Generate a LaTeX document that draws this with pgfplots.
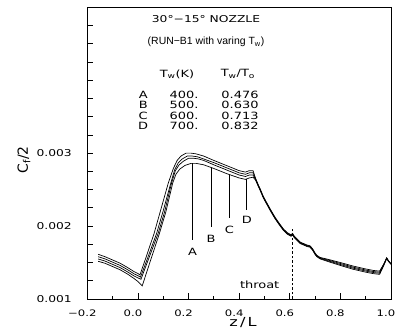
\documentclass[border=0pt]{standalone}
\usepackage{pgfplots}
\pgfplotsset{compat=1.18}
\usepackage{fontspec}
\setmainfont{DejaVu Sans}
\newfontfamily\wf[FakeStretch=1.3]{DejaVu Sans}
\newfontfamily\nf{Liberation Sans}
\tikzset{lab/.style={font=\wf\fontsize{10}{11}\selectfont}}
\begin{document}
\begin{tikzpicture}
\begin{axis}[
  at={(0,0)}, anchor=south west, scale only axis,
  width=303.7bp, height=291.7bp,
  xmin=-0.2, xmax=1.0, ymin=0.001, ymax=0.005,
  axis line style={line width=1bp},
  tick style={black, line width=0.7bp},
  tick align=inside, tick pos=left,
  major tick length=5.5bp, minor tick length=3bp,
  xtick={-0.2,0,0.2,0.4,0.6,0.8,1.0},
  xticklabels={−0.2,0.0,0.2,0.4,0.6,0.8,1.0},
  minor xtick={-0.1,0.1,0.3,0.5,0.7,0.9},
  ytick={0.001,0.00125,0.0015,0.00175,0.002,0.00225,0.0025,0.00275,0.003,0.00325,0.0035,0.00375,0.004,0.00425,0.0045,0.00475,0.005},
  yticklabels={0.001,,,,0.002,,,,0.003,,,,,,,,},
  scaled y ticks=false, scaled x ticks=false,
  xticklabel style={font=\wf\fontsize{9}{10}\selectfont, xshift=-5bp, yshift=-7bp},
  yticklabel style={font=\wf\fontsize{9.5}{10}\selectfont, xshift=-12bp},
]
% curve D (top)
\addplot[black, line width=0.7bp] coordinates {
(-0.157,0.001613)(-0.13,0.00158)(-0.1,0.001535)(-0.07,0.00149)(-0.04,0.00143)(-0.015,0.001375)(0.0,0.00135)(0.008,0.00133)
(0.03,0.00155)(0.064,0.0019)(0.09,0.00222)(0.12,0.00259)(0.14,0.00279)(0.155,0.0029)(0.17,0.00296)(0.19,0.003)(0.21,0.003)(0.23,0.00299)(0.26,0.00296)(0.3,0.0029)(0.35,0.00283)(0.4,0.00276)(0.425,0.00274)(0.44,0.00276)(0.455,0.00276)(0.465,0.00265)
(0.475,0.00257)(0.483,0.00251)(0.495,0.00241)(0.509,0.00232)(0.525,0.00222)(0.542,0.00212)(0.558,0.00204)(0.575,0.00196)(0.59,0.00191)(0.605,0.00188)(0.611,0.0019)(0.618,0.00186)(0.63,0.00182)(0.641,0.00178)(0.655,0.00176)(0.668,0.00174)(0.68,0.00173)(0.69,0.00169)(0.7,0.00163)(0.707,0.0016)(0.72,0.00157)
(0.75,0.001545)(0.8,0.0015)(0.85,0.001452)(0.9,0.001412)(0.93,0.001392)(0.955,0.001382)(0.97,0.001472)(0.983,0.001565)(0.99,0.001524)(1.0,0.001484)
};
% curve C
\addplot[black, line width=0.7bp] coordinates {
(-0.157,0.00158)(-0.13,0.00155)(-0.1,0.001505)(-0.07,0.00146)(-0.04,0.0014)(-0.015,0.001345)(0.0,0.00132)(0.01,0.0013)
(0.035,0.00153)(0.074,0.0019)(0.1,0.00221)(0.13,0.00259)(0.145,0.00277)(0.16,0.00287)(0.175,0.00292)(0.195,0.00296)(0.215,0.00296)(0.235,0.00295)(0.26,0.00292)(0.3,0.00287)(0.35,0.0028)(0.4,0.00273)(0.425,0.00271)(0.44,0.00273)(0.455,0.00273)(0.465,0.00265)
(0.475,0.002563)(0.483,0.002503)(0.495,0.002403)(0.509,0.002313)(0.525,0.002213)(0.542,0.002113)(0.558,0.002033)(0.575,0.001953)(0.59,0.001903)(0.605,0.001873)(0.611,0.001893)(0.618,0.001853)(0.63,0.001813)(0.641,0.001773)(0.655,0.001753)(0.668,0.001733)(0.68,0.001723)(0.69,0.001683)(0.7,0.001623)(0.707,0.001593)(0.72,0.001563)
(0.75,0.001535)(0.8,0.001487)(0.85,0.001437)(0.9,0.001397)(0.93,0.001377)(0.955,0.001367)(0.97,0.001464)(0.983,0.001562)(0.99,0.001522)(1.0,0.001482)
};
% curve B
\addplot[black, line width=0.7bp] coordinates {
(-0.157,0.001549)(-0.13,0.00152)(-0.1,0.001475)(-0.07,0.00143)(-0.04,0.00137)(-0.015,0.001315)(0.0,0.00129)(0.012,0.00127)
(0.04,0.00153)(0.08,0.0019)(0.105,0.00219)(0.133,0.00259)(0.148,0.00276)(0.163,0.00284)(0.18,0.00289)(0.2,0.00293)(0.22,0.00293)(0.24,0.00292)(0.26,0.0029)(0.3,0.00284)(0.35,0.00277)(0.4,0.0027)(0.425,0.00268)(0.44,0.0027)(0.455,0.0027)(0.465,0.00264)
(0.475,0.002557)(0.483,0.002497)(0.495,0.002397)(0.509,0.002307)(0.525,0.002207)(0.542,0.002107)(0.558,0.002027)(0.575,0.001947)(0.59,0.001897)(0.605,0.001867)(0.611,0.001887)(0.618,0.001847)(0.63,0.001807)(0.641,0.001767)(0.655,0.001747)(0.668,0.001727)(0.68,0.001717)(0.69,0.001677)(0.7,0.001617)(0.707,0.001587)(0.72,0.001557)
(0.75,0.001525)(0.8,0.001473)(0.85,0.001423)(0.9,0.001383)(0.93,0.001363)(0.955,0.001353)(0.97,0.001456)(0.983,0.001558)(0.99,0.001518)(1.0,0.001478)
};
% curve A (bottom)
\addplot[black, line width=0.7bp] coordinates {
(-0.157,0.001517)(-0.13,0.00149)(-0.1,0.001445)(-0.07,0.0014)(-0.04,0.00134)(-0.015,0.00128)(0.0,0.00124)(0.017,0.00118)
(0.05,0.00153)(0.085,0.0019)(0.11,0.00219)(0.1375,0.00259)(0.15,0.00271)(0.165,0.00278)(0.185,0.00283)(0.21,0.00286)(0.23,0.00286)(0.26,0.00284)(0.3,0.00279)(0.35,0.00272)(0.4,0.00266)(0.425,0.00264)(0.44,0.00266)(0.455,0.00267)(0.465,0.00263)
(0.475,0.00255)(0.483,0.00249)(0.495,0.00239)(0.509,0.0023)(0.525,0.0022)(0.542,0.0021)(0.558,0.00202)(0.575,0.00194)(0.59,0.00189)(0.605,0.00186)(0.611,0.00188)(0.618,0.00184)(0.63,0.0018)(0.641,0.00176)(0.655,0.00174)(0.668,0.00172)(0.68,0.00171)(0.69,0.00167)(0.7,0.00161)(0.707,0.00158)(0.72,0.00155)
(0.75,0.001515)(0.8,0.00146)(0.85,0.001408)(0.9,0.001368)(0.93,0.001348)(0.955,0.001338)(0.97,0.001448)(0.983,0.001555)(0.99,0.001516)(1.0,0.001476)
};
% pointer lines
\addplot[black, line width=0.6bp] coordinates {(0.216,0.00286)(0.216,0.00181)};
\addplot[black, line width=0.6bp] coordinates {(0.289,0.0028)(0.289,0.001992)};
\addplot[black, line width=0.6bp] coordinates {(0.361,0.002707)(0.361,0.00211)};
\addplot[black, line width=0.6bp] coordinates {(0.43,0.002647)(0.43,0.00222)};
% throat
\addplot[black, line width=0.7bp, dash pattern=on 2.5bp off 2bp] coordinates {(0.61,0.001)(0.61,0.00197)};
\node[lab] at (axis cs:0.216,0.00165) {A};
\node[lab] at (axis cs:0.289,0.00182) {B};
\node[lab] at (axis cs:0.361,0.00195) {C};
\node[lab] at (axis cs:0.43,0.00209) {D};
\node[lab] at (axis cs:0.481,0.001192) {throat};
\node[font=\wf\fontsize{9.5}{10}\selectfont] at (axis cs:0.269,0.004841) {30°−15° NOZZLE};
\node[font=\nf\fontsize{10.5}{12}\selectfont] at (axis cs:0.269,0.004525) {(RUN−B1 with varing T\textsubscript{w})};
\node[lab] at (axis cs:0.1545,0.004085) {T\textsubscript{w}(K)};
\node[lab] at (axis cs:0.395,0.004085) {T\textsubscript{w}/T\textsubscript{o}};
\node[lab] at (axis cs:0.021,0.0038) {A};
\node[lab] at (axis cs:0.021,0.003657) {B};
\node[lab] at (axis cs:0.021,0.003515) {C};
\node[lab] at (axis cs:0.021,0.003373) {D};
\node[lab] at (axis cs:0.182,0.0038) {400.};
\node[lab] at (axis cs:0.182,0.003657) {500.};
\node[lab] at (axis cs:0.182,0.003515) {600.};
\node[lab] at (axis cs:0.182,0.003373) {700.};
\node[lab] at (axis cs:0.4035,0.0038) {0.476};
\node[lab] at (axis cs:0.4035,0.003657) {0.630};
\node[lab] at (axis cs:0.4035,0.003515) {0.713};
\node[lab] at (axis cs:0.4035,0.003373) {0.832};
\end{axis}
\node[rotate=90, font=\fontsize{14}{16}\selectfont] at (-63.3bp,139bp) {C\textsubscript{f}/2};
\node[font=\wf\fontsize{12.5}{14}\selectfont] at (155.7bp,-24bp) {z\,/\,L};
\pgfresetboundingbox
\path[use as bounding box] (-87.3bp,-33bp) rectangle (309.7bp,299bp);
\end{tikzpicture}
\end{document}
